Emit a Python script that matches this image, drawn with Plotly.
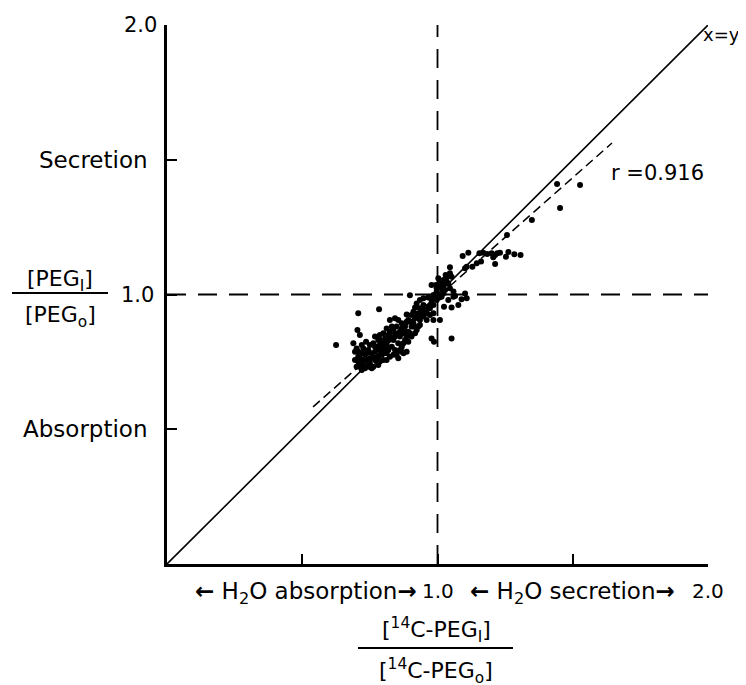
import plotly.graph_objects as go

# ---------------- data ----------------
pt_x = [1.093, 1.114, 1.155, 1.169, 1.184, 1.200, 1.213, 1.221, 1.231, 1.206,
        1.213, 1.262, 1.253, 1.284, 1.307, 1.161, 1.145, 1.129, 1.108, 1.102,
        1.046, 1.030, 1.046, 1.052, 1.003, 1.022, 1.034, 1.040, 1.009, 0.994,
        0.978, 1.015, 1.028, 1.046, 1.059, 1.022, 0.997, 0.985, 1.007, 1.065,
        1.102, 1.108, 1.089, 1.059, 1.040, 1.024, 1.052, 1.077, 1.007, 0.997,
        0.978, 0.966, 0.948, 0.935, 0.898, 0.978, 0.966, 0.948, 0.960, 0.935,
        0.923, 0.917, 0.911, 0.929, 0.941, 0.972, 0.985, 1.009, 0.985, 0.960,
        0.935, 0.917, 0.904, 0.886, 0.892, 0.911, 0.929, 0.923, 0.904, 0.892,
        0.880, 0.868, 0.855, 0.843, 0.824, 0.831, 0.849, 0.861, 0.874, 0.886,
        0.898, 0.880, 0.861, 0.843, 0.824, 0.812, 0.800, 0.787, 0.806, 0.818,
        0.837, 0.855, 0.868, 0.886, 0.874, 0.855, 0.843, 0.831, 0.812, 0.794,
        0.781, 0.769, 0.763, 0.775, 0.787, 0.800, 0.812, 0.824, 0.837, 0.849,
        0.794, 0.781, 0.769, 0.757, 0.744, 0.750, 0.736, 0.726, 0.720, 0.713,
        0.707, 0.701, 0.713, 0.726, 0.738, 0.750, 0.763, 0.781, 0.787, 0.800,
        0.812, 0.732, 0.744, 0.720, 0.707, 0.695, 0.701, 0.720, 0.689, 0.713,
        0.704, 0.707, 0.784, 0.625, 0.732, 0.695, 0.763, 0.978, 0.987, 1.052,
        0.738, 0.769, 0.750, 0.775, 0.726, 0.713, 0.757, 0.800, 0.818, 0.806,
        0.787, 0.824, 0.843, 0.837, 0.855, 0.868, 0.880, 0.904, 0.886, 0.923,
        0.948, 0.960, 0.948, 0.972, 0.985, 0.991, 1.015, 1.022, 1.034, 1.009,
        0.997, 0.868, 0.849, 0.861, 0.874, 0.892, 0.904, 0.917, 0.911, 0.935,
        0.769, 0.787, 0.818, 0.707, 0.744,
        1.442, 1.527, 1.453, 1.349, 1.257]
pt_y = [1.143, 1.155, 1.153, 1.155, 1.150, 1.153, 1.147, 1.153, 1.155, 1.138,
        1.113, 1.158, 1.140, 1.149, 1.147, 1.122, 1.116, 1.103, 1.103, 1.097,
        1.101, 1.072, 1.079, 1.066, 1.060, 1.054, 1.048, 1.041, 1.035, 1.035,
        1.035, 1.023, 1.017, 1.023, 1.011, 1.004, 1.011, 0.998, 0.998, 0.994,
        1.004, 0.986, 0.982, 0.992, 0.980, 0.955, 0.952, 0.961, 0.989, 0.980,
        0.980, 0.989, 0.986, 0.980, 0.997, 0.967, 0.955, 0.961, 0.942, 0.949,
        0.967, 0.952, 0.936, 0.930, 0.924, 0.924, 0.930, 0.905, 0.905, 0.905,
        0.905, 0.912, 0.924, 0.926, 0.905, 0.893, 0.881, 0.868, 0.881, 0.862,
        0.881, 0.893, 0.905, 0.912, 0.905, 0.881, 0.881, 0.862, 0.856, 0.844,
        0.856, 0.831, 0.844, 0.856, 0.862, 0.874, 0.856, 0.850, 0.837, 0.831,
        0.831, 0.819, 0.806, 0.788, 0.782, 0.763, 0.794, 0.806, 0.813, 0.819,
        0.831, 0.844, 0.819, 0.806, 0.794, 0.800, 0.782, 0.769, 0.776, 0.788,
        0.776, 0.769, 0.757, 0.782, 0.794, 0.813, 0.825, 0.800, 0.782, 0.763,
        0.751, 0.732, 0.732, 0.738, 0.757, 0.745, 0.732, 0.738, 0.751, 0.757,
        0.757, 0.726, 0.732, 0.720, 0.769, 0.788, 0.800, 0.813, 0.819, 0.850,
        0.868, 0.930, 0.945, 0.813, 0.776, 0.757, 0.769, 0.837, 0.825, 0.837,
        0.782, 0.788, 0.763, 0.751, 0.757, 0.745, 0.726, 0.782, 0.794, 0.819,
        0.831, 0.844, 0.844, 0.874, 0.856, 0.874, 0.862, 0.899, 0.899, 0.918,
        0.918, 0.930, 0.942, 0.949, 0.961, 0.986, 0.992, 1.035, 1.066, 1.048,
        1.023, 0.788, 0.776, 0.794, 0.819, 0.825, 0.844, 0.856, 0.881, 0.887,
        0.806, 0.813, 0.850, 0.788, 0.751,
        1.410, 1.406, 1.321, 1.276, 1.221]

ident_x = [0.0, 2.0]
ident_y = [0.0, 2.0]
hline_x = [0.0, 2.0]
hline_y = [1.0, 1.0]
vline_x = [1.0, 1.0]
vline_y = [0.0, 2.0]
reg_x = [0.54, 1.645]
reg_y = [0.583, 1.562]
r_label = "r =0.916"
r_pos = [1.815, 1.45]
ident_label = "x=y"

y_tick_vals = [0.5, 1.0, 1.5, 2.0]
y_tick_text = ["Absorption", "1.0", "Secretion", "2.0"]
x_tick_vals = [0.5, 1.0, 1.5, 2.0]
x_num_vals = [1.0, 2.0]
x_num_text = ["1.0", "2.0"]
x_range_vals = [0.5, 1.5]
x_range_text = ["<b>\u2190</b> H<sub>2</sub>O absorption<b>\u2192</b>",
                "<b>\u2190</b> H<sub>2</sub>O secretion<b>\u2192</b>"]
y_title_num = "[PEG<sub>I</sub>]"
y_title_den = "[PEG<sub>o</sub>]"
x_title_num = "[<sup>14</sup>C-PEG<sub>I</sub>]"
x_title_den = "[<sup>14</sup>C-PEG<sub>o</sub>]"

# ---------------- layout geometry ----------------
# the page body has an 8px margin, so the figure starts at (8, 8)
OFF = 8
PAGE_W, PAGE_H = 746, 685
W, H = PAGE_W - OFF, PAGE_H - OFF
PLOT_L, PLOT_R, PLOT_T, PLOT_B = 167, 708, 25, 564   # page pixels
ML, MT = PLOT_L - OFF, PLOT_T - OFF
MR, MB = PAGE_W - PLOT_R, PAGE_H - PLOT_B
PW, PH = PLOT_R - PLOT_L, PLOT_B - PLOT_T
FONT = "DejaVu Sans"


def px_to_paper_x(px):
    return (px - PLOT_L) / PW


def px_to_paper_y(py):
    return (PLOT_B - py) / PH


fig = go.Figure()

fig.add_trace(go.Scatter(x=ident_x, y=ident_y, mode="lines",
                         line=dict(color="black", width=1.6), hoverinfo="skip"))
fig.add_trace(go.Scatter(x=hline_x, y=hline_y, mode="lines",
                         line=dict(color="black", width=1.8, dash="19px,12px"),
                         hoverinfo="skip"))
fig.add_trace(go.Scatter(x=vline_x, y=vline_y, mode="lines",
                         line=dict(color="black", width=1.8, dash="19px,12px"),
                         hoverinfo="skip"))
fig.add_trace(go.Scatter(x=reg_x, y=reg_y, mode="lines",
                         line=dict(color="black", width=1.5, dash="9px,5px"),
                         hoverinfo="skip"))
fig.add_trace(go.Scatter(x=pt_x, y=pt_y, mode="markers",
                         marker=dict(color="black", size=6, line=dict(width=0))))

ann = []
# y tick labels
y_shift = {"Absorption": -17, "1.0": -11, "Secretion": -17, "2.0": -8}
for v, t in zip(y_tick_vals, y_tick_text):
    ann.append(dict(x=0, y=v, xref="x", yref="y", text=t, showarrow=False,
                    xanchor="right", yanchor="middle", xshift=y_shift[t],
                    font=dict(family=FONT, size=21 if t[0].isdigit() else 23,
                              color="black")))
# x tick numbers
for v, t in zip(x_num_vals, x_num_text):
    ann.append(dict(x=v, y=0, xref="x", yref="y", text=t, showarrow=False,
                    xanchor="center", yanchor="middle", yshift=-27,
                    font=dict(family=FONT, size=20, color="black")))
# x range texts
range_shift = [4, 0]
for v, t, s in zip(x_range_vals, x_range_text, range_shift):
    ann.append(dict(x=v, y=0, xref="x", yref="y", text=t, showarrow=False,
                    xanchor="center", yanchor="middle", yshift=-29, xshift=s,
                    font=dict(family=FONT, size=23, color="black")))
# r label and x=y label
ann.append(dict(x=r_pos[0], y=r_pos[1], xref="x", yref="y", text=r_label,
                showarrow=False, xanchor="center", yanchor="middle",
                font=dict(family=FONT, size=21, color="black")))
ann.append(dict(x=1.0, y=1.963, xref="paper", yref="y", text=ident_label,
                showarrow=False, xanchor="left", yanchor="middle", xshift=-6,
                borderpad=0,
                font=dict(family=FONT, size=18, color="black")))
# y title fraction
ann.append(dict(x=px_to_paper_x(60), y=px_to_paper_y(280), xref="paper", yref="paper",
                text=y_title_num, showarrow=False, xanchor="center", yanchor="middle",
                font=dict(family=FONT, size=22, color="black")))
ann.append(dict(x=px_to_paper_x(60), y=px_to_paper_y(316), xref="paper", yref="paper",
                text=y_title_den, showarrow=False, xanchor="center", yanchor="middle",
                font=dict(family=FONT, size=22, color="black")))
# x title fraction
ann.append(dict(x=px_to_paper_x(436), y=px_to_paper_y(630), xref="paper", yref="paper",
                text=x_title_num, showarrow=False, xanchor="center", yanchor="middle",
                font=dict(family=FONT, size=22, color="black")))
ann.append(dict(x=px_to_paper_x(436), y=px_to_paper_y(671), xref="paper", yref="paper",
                text=x_title_den, showarrow=False, xanchor="center", yanchor="middle",
                font=dict(family=FONT, size=22, color="black")))

shapes = [
    dict(type="line", xref="paper", yref="paper",
         x0=px_to_paper_x(12), x1=px_to_paper_x(108),
         y0=px_to_paper_y(293), y1=px_to_paper_y(293),
         line=dict(color="black", width=2)),
    dict(type="line", xref="paper", yref="paper",
         x0=px_to_paper_x(358), x1=px_to_paper_x(513),
         y0=px_to_paper_y(648), y1=px_to_paper_y(648),
         line=dict(color="black", width=2)),
]

axis_common = dict(range=[0, 2], showline=True, linecolor="black", linewidth=2.5,
                   ticks="inside", ticklen=10, tickwidth=2, tickcolor="black",
                   showticklabels=False, showgrid=False, zeroline=False)

fig.update_layout(
    width=W, height=H,
    margin=dict(l=ML, r=MR, t=MT, b=MB, pad=0),
    paper_bgcolor="white", plot_bgcolor="white",
    showlegend=False,
    xaxis=dict(tickvals=x_tick_vals, **axis_common),
    yaxis=dict(tickvals=y_tick_vals, **axis_common),
    annotations=ann,
    shapes=shapes,
)

fig.write_html("out.html")
